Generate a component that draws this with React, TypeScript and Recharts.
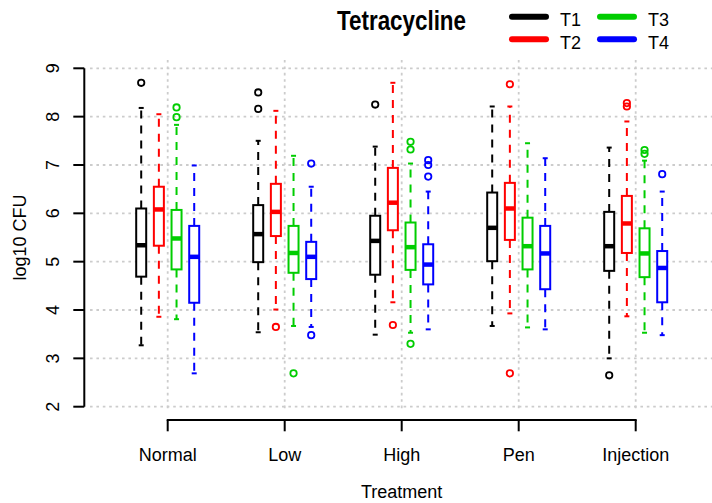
import React from 'react';
import { ComposedChart, Bar, XAxis, YAxis, CartesianGrid, Legend } from 'recharts';

// R-style boxplot of log10 CFU per treatment, four time points dodged in each group.

const treatments = ['Normal', 'Low', 'High', 'Pen', 'Injection'];
const yTicks = [2, 3, 4, 5, 6, 7, 8, 9];

// lower whisker, Q1, median, Q3, upper whisker
const t1Stats = [
  [3.27, 4.69, 5.34, 6.1, 8.18],
  [3.54, 4.99, 5.57, 6.17, 7.5],
  [3.49, 4.73, 5.43, 5.95, 7.38],
  [3.67, 5.01, 5.7, 6.43, 8.21],
  [3.0, 4.81, 5.32, 6.03, 7.36],
];
const t2Stats = [
  [3.86, 5.33, 6.08, 6.55, 8.05],
  [4.01, 5.53, 6.03, 6.61, 8.12],
  [4.16, 5.65, 6.22, 6.94, 8.7],
  [3.93, 5.45, 6.1, 6.63, 8.21],
  [3.87, 5.18, 5.79, 6.36, 7.9],
];
const t3Stats = [
  [3.81, 4.84, 5.48, 6.07, 7.83],
  [3.67, 4.77, 5.18, 5.74, 7.19],
  [3.53, 4.83, 5.3, 5.81, 7.03],
  [3.64, 4.84, 5.32, 5.91, 7.45],
  [3.53, 4.68, 5.17, 5.69, 7.09],
];
const t4Stats = [
  [2.69, 4.15, 5.1, 5.74, 6.99],
  [3.65, 4.64, 5.1, 5.41, 6.55],
  [3.6, 4.53, 4.94, 5.36, 6.45],
  [3.6, 4.43, 5.17, 5.74, 7.14],
  [3.48, 4.16, 4.87, 5.22, 6.45],
];

const t1Outliers = [[8.7], [8.5, 8.16], [8.25], [], [2.65]];
const t2Outliers = [[], [3.65], [3.69], [8.67, 2.69], [8.28, 8.21]];
const t3Outliers = [[8.19, 7.99], [2.69], [7.48, 7.32, 3.3], [], [7.31, 7.23]];
const t4Outliers = [[], [7.03, 3.48], [7.1, 7.0, 6.76], [], [6.81]];

const series = [
  { key: 'T1', color: '#000000', stats: t1Stats, outliers: t1Outliers },
  { key: 'T2', color: '#FF0000', stats: t2Stats, outliers: t2Outliers },
  { key: 'T3', color: '#00CD00', stats: t3Stats, outliers: t3Outliers },
  { key: 'T4', color: '#0000FF', stats: t4Stats, outliers: t4Outliers },
];

const rows = treatments.map((treatment, i) => {
  const row: any = { treatment };
  series.forEach((s) => {
    const [lo, q1, med, q3, hi] = s.stats[i];
    const out = s.outliers[i];
    row[s.key] = { lo, q1, med, q3, hi, out, range: [Math.min(lo, ...out), Math.max(hi, ...out)] };
  });
  return row;
});

const FONT = "'Liberation Sans', Arial, sans-serif";
const PAD_L = 24.9;
const PAD_R = 17.8;

// the bar rect spans the full range (outliers included); everything inside is placed on it linearly
const makeBoxShape = (key: string, color: string) => (props: any) => {
  const { x, y, width, height, payload } = props;
  const b = payload[key];
  const top = Math.min(y, y + height);
  const h = Math.abs(height);
  const [rlo, rhi] = b.range;
  const py = (v: number) => top + (h * (rhi - v)) / (rhi - rlo);
  const cx = x + width / 2;
  const cap = width / 4;
  return (
    <g>
      <line x1={cx} x2={cx} y1={py(b.q3)} y2={py(b.hi)} stroke={color} strokeWidth={2} strokeDasharray="8 7" />
      <line x1={cx} x2={cx} y1={py(b.q1)} y2={py(b.lo)} stroke={color} strokeWidth={2} strokeDasharray="8 7" />
      <line x1={cx - cap} x2={cx + cap} y1={py(b.hi)} y2={py(b.hi)} stroke={color} strokeWidth={2} />
      <line x1={cx - cap} x2={cx + cap} y1={py(b.lo)} y2={py(b.lo)} stroke={color} strokeWidth={2} />
      <rect x={x} y={py(b.q3)} width={width} height={py(b.q1) - py(b.q3)} fill="#fff" stroke={color} strokeWidth={2} />
      <line x1={x} x2={x + width} y1={py(b.med)} y2={py(b.med)} stroke={color} strokeWidth={4.5} />
      {b.out.map((v: number, j: number) => (
        <circle key={j} cx={cx} cy={py(v)} r={3.2} fill="none" stroke={color} strokeWidth={1.8} />
      ))}
    </g>
  );
};

const TreatmentTick = (props: any) => {
  const { x, y, payload, index, visibleTicksCount } = props;
  const step = payload.offset ? payload.offset * 2 : 0;
  const axisY = y + 13.3;
  return (
    <g>
      {index < visibleTicksCount - 1 && (
        <line x1={x - 1} x2={x + step + 1} y1={axisY} y2={axisY} stroke="#000" strokeWidth={2} />
      )}
      <line x1={x} x2={x} y1={axisY} y2={axisY + 11.3} stroke="#000" strokeWidth={2} />
      <text x={x} y={y + 54.5} textAnchor="middle" fontSize={18} fontFamily={FONT} fill="#000">
        {payload.value}
      </text>
    </g>
  );
};

const LogTick = (props: any) => {
  const { x, y, payload } = props;
  const tx = x - 14;
  return (
    <text x={tx} y={y} transform={`rotate(-90 ${tx} ${y})`} textAnchor="middle" fontSize={18} fontFamily={FONT} fill="#000">
      {payload.value}
    </text>
  );
};

const LegendBox = (props: any) => {
  const items = props.payload || [];
  return (
    <svg width={712} height={60} style={{ display: 'block' }}>
      <text x={337} y={29.5} fontSize={27} fontWeight="bold" fontFamily={FONT} textLength={129} lengthAdjust="spacingAndGlyphs" fill="#000">
        Tetracycline
      </text>
      {items.map((it: any, i: number) => {
        const lx = 512 + Math.floor(i / 2) * 88;
        const ly = 16.7 + (i % 2) * 22.6;
        return (
          <g key={it.value}>
            <line x1={lx} x2={lx + 34} y1={ly} y2={ly} stroke={it.color} strokeWidth={6} strokeLinecap="round" />
            <text x={lx + 48} y={ly + 9.3} fontSize={18} fontFamily={FONT} fill="#000">
              {it.value}
            </text>
          </g>
        );
      })}
    </svg>
  );
};

export default function App() {
  return (
    <div style={{ position: 'absolute', left: 0, top: 0, width: 712, height: 503, background: '#fff' }}>
      <ComposedChart width={712} height={503} data={rows} margin={{ top: 68.3, right: 0, bottom: 0, left: 0 }} barGap={7.67}>
        <CartesianGrid x={90} y={60} width={622} height={352} stroke="#cccccc" strokeWidth={1.8} strokeDasharray="2.6 3.8" syncWithTicks />
        <XAxis
          dataKey="treatment"
          height={96.3}
          padding={{ left: PAD_L, right: PAD_R }}
          axisLine={false}
          tickLine={false}
          tickSize={0}
          tickMargin={0}
          tick={<TreatmentTick />}
          interval={0}
          label={{
            content: (p: any) => {
              const vb = p.viewBox;
              const cx = vb.x + PAD_L + (vb.width - PAD_L - PAD_R) / 2;
              return (
                <text x={cx} y={vb.y + 91.3} textAnchor="middle" fontSize={18} fontFamily={FONT} fill="#000">
                  Treatment
                </text>
              );
            },
          }}
        />
        <YAxis
          type="number"
          domain={[2, 9]}
          ticks={yTicks}
          width={84.3}
          tickSize={11}
          tickMargin={0}
          axisLine={{ stroke: '#000', strokeWidth: 2 }}
          tickLine={{ stroke: '#000', strokeWidth: 2 }}
          tick={<LogTick />}
          label={{
            content: (p: any) => {
              const vb = p.viewBox;
              const lx = vb.x + 26;
              const ly = vb.y + vb.height / 2;
              return (
                <text x={lx} y={ly} transform={`rotate(-90 ${lx} ${ly})`} textAnchor="middle" fontSize={18} fontFamily={FONT} fill="#000">
                  log10 CFU
                </text>
              );
            },
          }}
        />
        <Legend layout="vertical" align="center" verticalAlign="middle" wrapperStyle={{ top: 0, left: 0, width: 712, height: 60 }} content={<LegendBox />} />
        {series.map((s) => (
          <Bar
            key={s.key}
            name={s.key}
            dataKey={(r: any) => r[s.key].range}
            fill={s.color}
            barSize={10}
            shape={makeBoxShape(s.key, s.color)}
            isAnimationActive={false}
          />
        ))}
      </ComposedChart>
    </div>
  );
}
